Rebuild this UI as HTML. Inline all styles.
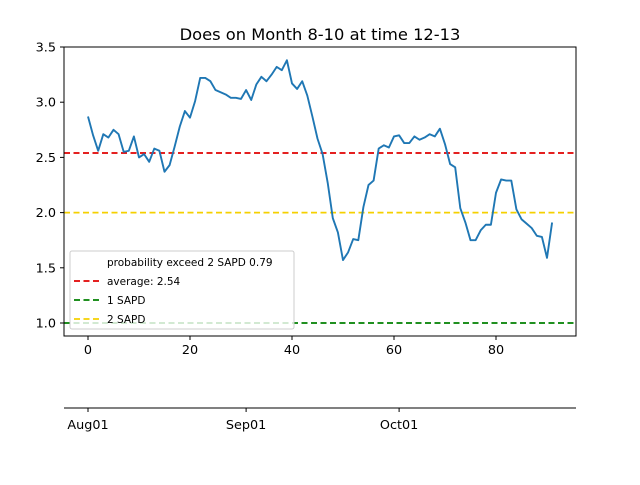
<!DOCTYPE html>
<html><head><meta charset="utf-8"><style>
body{margin:0;background:#fff;font-family:"Liberation Sans","DejaVu Sans",sans-serif}
svg text{font-family:"DejaVu Sans","Liberation Sans",sans-serif}
</style></head><body>
<svg id="chart" width="640" height="480" xmlns="http://www.w3.org/2000/svg">
<rect width="640" height="480" fill="#fff"/>
<text x="320" y="40" text-anchor="middle" font-size="16.3">Does on Month 8-10 at time 12-13</text>
<g id="plot"></g>
</svg>
<script>
const values=[2.87,2.70,2.56,2.71,2.68,2.75,2.71,2.55,2.56,2.69,2.50,2.53,2.46,2.58,2.56,2.37,2.43,2.60,2.78,2.92,2.86,3.01,3.22,3.22,3.19,3.11,3.09,3.07,3.04,3.04,3.03,3.11,3.02,3.16,3.23,3.19,3.25,3.32,3.29,3.38,3.17,3.12,3.19,3.06,2.87,2.67,2.53,2.27,1.95,1.82,1.57,1.64,1.76,1.75,2.05,2.25,2.29,2.58,2.61,2.59,2.69,2.70,2.63,2.63,2.69,2.66,2.68,2.71,2.69,2.76,2.62,2.44,2.41,2.04,1.91,1.75,1.75,1.84,1.89,1.89,2.18,2.30,2.29,2.29,2.03,1.94,1.90,1.86,1.79,1.78,1.59,1.91];
const xTicks=[0,20,40,60,80];
const yTicks=[1.0,1.5,2.0,2.5,3.0,3.5];
const refLines=[2.54,1.0,2.0];
const refColors=["#e00000","#008000","#f5d000"];
const legendLabels=["probability exceed 2 SAPD 0.79","average: 2.54","1 SAPD","2 SAPD"];
const dateLabels=["Aug01","Sep01","Oct01"];
const dateDays=[0,31,61];
const ns="http://www.w3.org/2000/svg";
const L=64,R=576,T=47,B=336;
const xs=v=>88+v*5.1;
const ys=v=>323-(v-1.0)*110.4;
const g=document.getElementById('plot');
function el(t,a,p){const e=document.createElementNS(ns,t);for(const k in a)e.setAttribute(k,a[k]);(p||g).appendChild(e);return e;}
refLines.forEach((v,i)=>{const l=el('line',{x1:L,x2:R,y1:ys(v),y2:ys(v),stroke:refColors[i],'stroke-width':1.7,'stroke-dasharray':'6,3.5'});

});
const pts=values.map((v,i)=>xs(i)+','+ys(v)).join(' ');
const pl=el('polyline',{points:pts,fill:'none',stroke:'#1f77b4','stroke-width':1.9,'stroke-linejoin':'round'});


const fr=el('rect',{x:L,y:T,width:R-L,height:B-T,fill:'none',stroke:'#000','stroke-width':1});


xTicks.forEach(t=>{el('line',{x1:xs(t),x2:xs(t),y1:B,y2:B+4,stroke:'#000'});
const tx=el('text',{x:xs(t),y:B+18,'text-anchor':'middle','font-size':12.8});tx.textContent=t;

});
yTicks.forEach(t=>{el('line',{x1:L-4,x2:L,y1:ys(t),y2:ys(t),stroke:'#000'});
const tx=el('text',{x:L-8,y:ys(t)+4.5,'text-anchor':'end','font-size':12.8});tx.textContent=t.toFixed(1);

});
const lg=el('rect',{x:70,y:251,width:224,height:78,fill:'#fff','fill-opacity':0.8,stroke:'#ccc',rx:2});


legendLabels.forEach((s,i)=>{const y=262+i*19;
if(i>0)el('line',{x1:74,x2:100,y1:y,y2:y,stroke:refColors[i-1],'stroke-width':1.7,'stroke-dasharray':'6,3.5'});
const tx=el('text',{x:107,y:y+4,'font-size':10.5});tx.textContent=s;

});
const da=el('line',{x1:L,x2:R,y1:408,y2:408,stroke:'#000','stroke-width':1});


dateLabels.forEach((s,i)=>{const x=xs(dateDays[i]);el('line',{x1:x,x2:x,y1:408,y2:412,stroke:'#000'});
const tx=el('text',{x:x,y:429,'text-anchor':'middle','font-size':12.8});tx.textContent=s;

});
</script>
</body></html>
